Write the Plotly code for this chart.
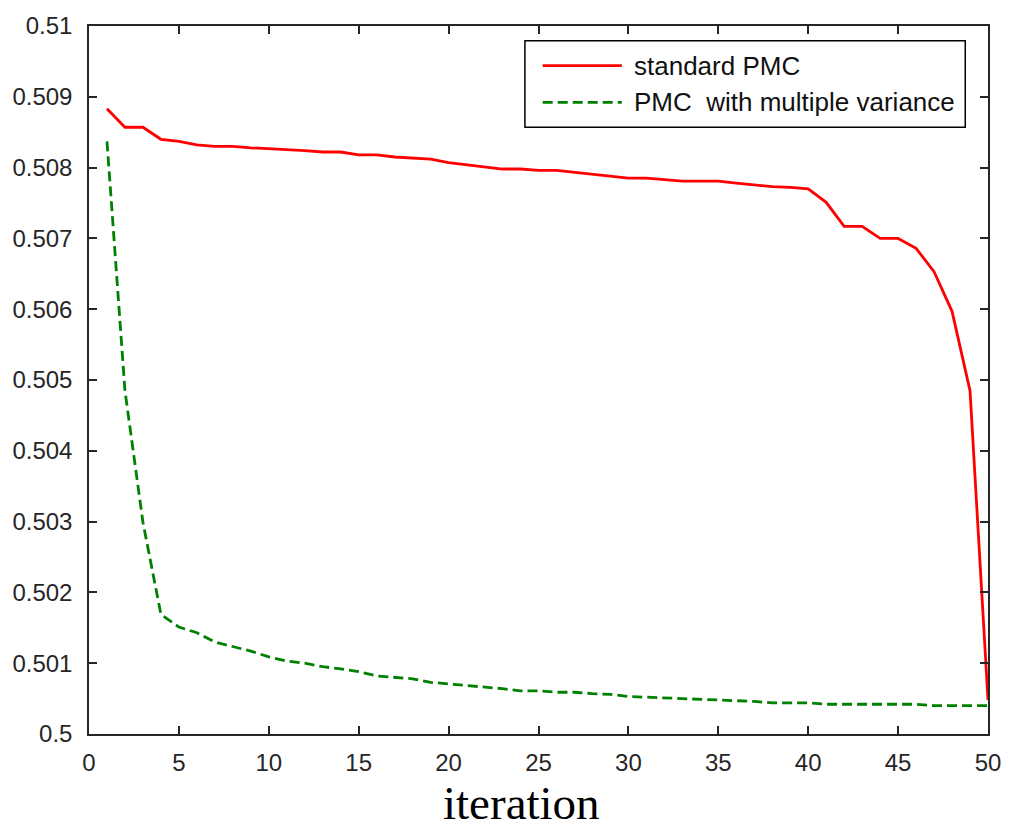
import plotly.graph_objects as go

iterations = list(range(1, 51))

standard_pmc = [
    0.50883, 0.50857, 0.50857, 0.50840, 0.50837, 0.50832, 0.50830, 0.50830, 0.50828, 0.50827,
    0.50825, 0.50824, 0.50822, 0.50822, 0.50818, 0.50818, 0.50815, 0.50813, 0.50812, 0.50807,
    0.50804, 0.50801, 0.50798, 0.50798, 0.50796, 0.50796, 0.50793, 0.50790, 0.50788, 0.50785,
    0.50785, 0.50783, 0.50781, 0.50781, 0.50781, 0.50778, 0.50775, 0.50773, 0.50772, 0.50770,
    0.50751, 0.50717, 0.50717, 0.50700, 0.50700, 0.50686, 0.50653, 0.50597, 0.50485, 0.50048,
]

pmc_multiple_variance = [
    0.50837, 0.50485, 0.50299, 0.50169, 0.50151, 0.50143, 0.50130, 0.50124, 0.50117, 0.50109,
    0.50103, 0.50100, 0.50095, 0.50092, 0.50088, 0.50082, 0.50080, 0.50078, 0.50073, 0.50071,
    0.50068, 0.50067, 0.50064, 0.50061, 0.50061, 0.50059, 0.50059, 0.50057, 0.50056, 0.50053,
    0.50052, 0.50050, 0.50050, 0.50049, 0.50048, 0.50047, 0.50046, 0.50044, 0.50044, 0.50044,
    0.50042, 0.50042, 0.50042, 0.50042, 0.50042, 0.50042, 0.50040, 0.50040, 0.50040, 0.50040,
]

series_names = ["standard PMC", "PMC  with multiple variance"]
x_tick_vals = [0, 5, 10, 15, 20, 25, 30, 35, 40, 45, 50]
y_tick_vals = [0.5, 0.501, 0.502, 0.503, 0.504, 0.505, 0.506, 0.507, 0.508, 0.509, 0.51]
y_tick_text = ["0.5", "0.501", "0.502", "0.503", "0.504", "0.505", "0.506", "0.507", "0.508", "0.509", "0.51"]
x_title = "iteration"

RED = "#ff0000"
GREEN = "#008000"
AXIS = "#262626"
FONT = "Liberation Sans, Arial, sans-serif"
DASH = "10px,5px"

fig = go.Figure()
fig.add_trace(go.Scatter(x=iterations, y=standard_pmc, mode="lines", name=series_names[0],
                         line=dict(color=RED, width=2.8), showlegend=False))
fig.add_trace(go.Scatter(x=iterations, y=pmc_multiple_variance, mode="lines", name=series_names[1],
                         line=dict(color=GREEN, width=2.8, dash=DASH), showlegend=False))

axis_common = dict(
    showgrid=False, zeroline=False, showline=True, linecolor=AXIS, linewidth=1.5,
    mirror="ticks", ticks="inside", ticklen=8, tickwidth=1.5, tickcolor=AXIS,
    tickfont=dict(family=FONT, size=24, color=AXIS),
)

fig.update_xaxes(range=[0, 50], tickvals=x_tick_vals, ticklabelstandoff=6, **axis_common)
fig.update_yaxes(range=[0.5, 0.51], tickvals=y_tick_vals, ticktext=y_tick_text,
                 ticklabelstandoff=10, **axis_common)

# x-axis title (serif, large)
fig.add_annotation(text=x_title, xref="paper", yref="paper", x=0.481, y=-0.097,
                   xanchor="center", yanchor="middle", showarrow=False,
                   font=dict(family="Liberation Serif, Times New Roman, serif", size=47, color="#000"))

# legend box drawn in paper coordinates
fig.add_shape(type="rect", xref="paper", yref="paper", x0=0.4849, x1=0.9747, y0=0.857, y1=0.979,
              line=dict(color="#000", width=1.5), fillcolor="white", layer="above")
fig.add_shape(type="line", xref="paper", yref="paper", x0=0.5047, x1=0.5927, y0=0.944, y1=0.944,
              line=dict(color=RED, width=2.8), layer="above")
fig.add_shape(type="line", xref="paper", yref="paper", x0=0.5047, x1=0.5927, y0=0.8922, y1=0.8922,
              line=dict(color=GREEN, width=2.8, dash=DASH), layer="above")
for name, yy in zip(series_names, [0.944, 0.8922]):
    fig.add_annotation(text=name, xref="paper", yref="paper", x=0.6037, y=yy,
                       xanchor="left", yanchor="middle", showarrow=False,
                       font=dict(family=FONT, size=26, color="#111"))

fig.update_layout(
    width=1013, height=831,
    margin=dict(l=86, r=18, t=20, b=97),
    paper_bgcolor="white", plot_bgcolor="white",
)

fig.write_html("out.html")
